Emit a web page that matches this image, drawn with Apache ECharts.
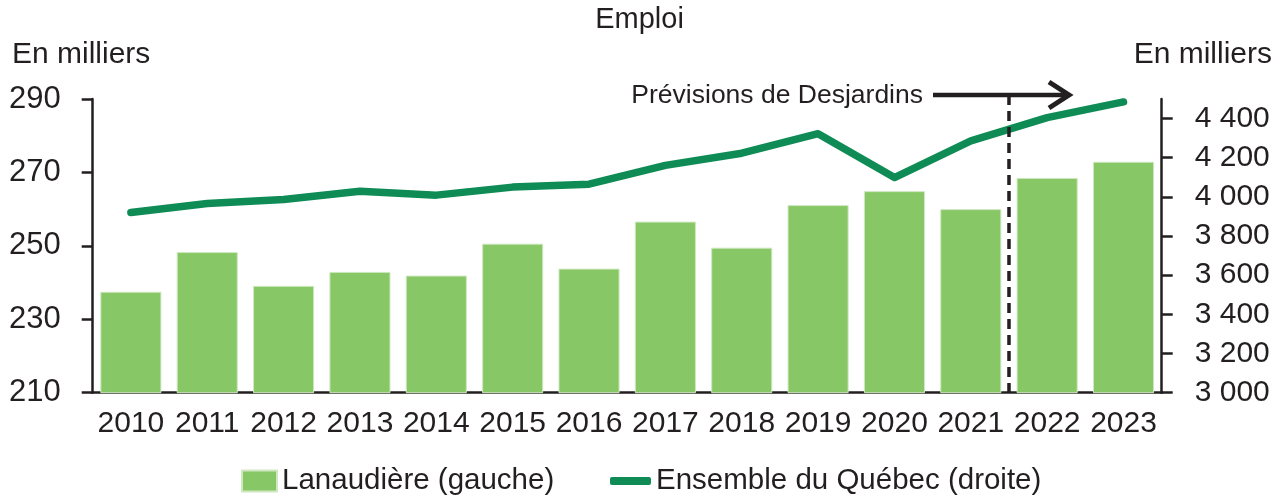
<!DOCTYPE html>
<html>
<head>
    <meta charset="utf-8">
    <title>Emploi</title>
    <script src="https://cdn.jsdelivr.net/npm/echarts@6.0.0/dist/echarts.min.js" type="text/javascript"></script>
</head>
<body style="margin:0;">
<div id="main" style="width: 1279px;height:501px;"></div>
<script type="text/javascript">
    // données
    var years = ['2010', '2011', '2012', '2013', '2014', '2015', '2016', '2017', '2018', '2019', '2020', '2021', '2022', '2023'];
    var lanaudiere = [237.5, 248.3, 239.1, 242.9, 241.9, 250.6, 243.8, 256.6, 249.5, 261.1, 264.9, 260.0, 268.5, 272.9];
    var quebec = [3920, 3966, 3987, 4029, 4009, 4050, 4065, 4161, 4223, 4323, 4099, 4286, 4405, 4485];
    var leftTicks = [210, 230, 250, 270, 290];
    var rightTicks = [3000, 3200, 3400, 3600, 3800, 4000, 4200, 4400];

    var FONT = "'Liberation Sans', Arial, sans-serif";
    var INK = '#231f20';
    var BAR = '#88c765';
    var LINE = '#0f8c56';

    function fmtSpace(v) {
        return String(v).replace(/\B(?=(\d{3})+(?!\d))/g, ' ');
    }

    var chart = echarts.init(document.getElementById('main'));
    var option = {
        animation: false,
        textStyle: { fontFamily: FONT, color: INK },
        grid: { left: 92.7, right: 117.3, top: 99, bottom: 108.3 },
        legend: [{
            data: ['Lanaudière (gauche)'],
            left: 241, top: 466, padding: 0,
            itemWidth: 35, itemHeight: 21,
            icon: 'rect',
            textStyle: { fontFamily: FONT, fontSize: 29.5, color: INK }
        }, {
            data: ['Ensemble du Québec (droite)'],
            left: 610, top: 466, padding: 0,
            itemWidth: 41, itemHeight: 8,
            icon: 'roundRect',
            textStyle: { fontFamily: FONT, fontSize: 29.5, color: INK }
        }],
        xAxis: {
            type: 'category',
            data: years,
            axisLine: { lineStyle: { color: INK, width: 2.5 } },
            axisTick: { show: false },
            axisLabel: { fontFamily: FONT, fontSize: 30, color: INK, margin: 16, interval: 0 }
        },
        yAxis: [{
            type: 'value',
            min: 210, max: 290, interval: 20,
            splitLine: { show: false },
            axisLine: { show: true, lineStyle: { color: INK, width: 2.5 } },
            axisTick: { show: true, length: 11, lineStyle: { width: 2.5, color: INK }, customValues: leftTicks },
            axisLabel: { fontFamily: FONT, fontSize: 31, color: INK, margin: 32, customValues: leftTicks }
        }, {
            type: 'value',
            position: 'right',
            min: 3000, max: 4500, interval: 200,
            splitLine: { show: false },
            axisLine: { show: true, lineStyle: { color: INK, width: 2.5 } },
            axisTick: { show: true, length: 11, lineStyle: { width: 2.5, color: INK }, customValues: rightTicks },
            axisLabel: { fontFamily: FONT, fontSize: 30, color: INK, margin: 33, customValues: rightTicks, formatter: fmtSpace }
        }],
        series: [{
            name: 'Lanaudière (gauche)',
            type: 'bar',
            yAxisIndex: 0,
            data: lanaudiere,
            barCategoryGap: '20%',
            itemStyle: { color: BAR, borderColor: '#cfe8c0', borderWidth: 1 }
        }, {
            name: 'Ensemble du Québec (droite)',
            type: 'line',
            yAxisIndex: 1,
            data: quebec,
            symbol: 'none',
            itemStyle: { color: LINE },
            lineStyle: { color: LINE, width: 7.5, cap: 'round', join: 'round' }
        }]
    };
    chart.setOption(option);

    // ligne pointillée et flèche des prévisions
    var xa = chart.convertToPixel({ xAxisIndex: 0 }, '2021');
    var xb = chart.convertToPixel({ xAxisIndex: 0 }, '2022');
    var xSplit = (xa + xb) / 2;
    var yBase = chart.convertToPixel({ yAxisIndex: 0 }, 210);
    var yArrow = 95;

    chart.setOption({
        graphic: [
            { type: 'text', left: 'center', top: 5,
              style: { text: 'Emploi', font: '29px ' + FONT, fill: INK } },
            { type: 'text', x: 12, y: 55,
              style: { text: 'En milliers', font: '30px ' + FONT, fill: INK, align: 'left', verticalAlign: 'middle' } },
            { type: 'text', x: 1272, y: 55,
              style: { text: 'En milliers', font: '30px ' + FONT, fill: INK, align: 'right', verticalAlign: 'middle' } },
            { type: 'line', z: 10,
              shape: { x1: xSplit, y1: yArrow, x2: xSplit, y2: yBase },
              style: { stroke: INK, lineWidth: 3.5, lineDash: [10, 6] } },
            { type: 'line', z: 10,
              shape: { x1: 933, y1: yArrow, x2: 1068, y2: yArrow },
              style: { stroke: INK, lineWidth: 4.5 } },
            { type: 'polyline', z: 10,
              shape: { points: [[1049, yArrow - 13], [1069, yArrow], [1049, yArrow + 13]] },
              style: { stroke: INK, lineWidth: 5, fill: null } },
            { type: 'text', x: 923, y: yArrow + 1,
              style: { text: 'Prévisions de Desjardins', font: '26.5px ' + FONT, fill: INK, align: 'right', verticalAlign: 'middle' } }
        ]
    });
</script>
</body>
</html>
